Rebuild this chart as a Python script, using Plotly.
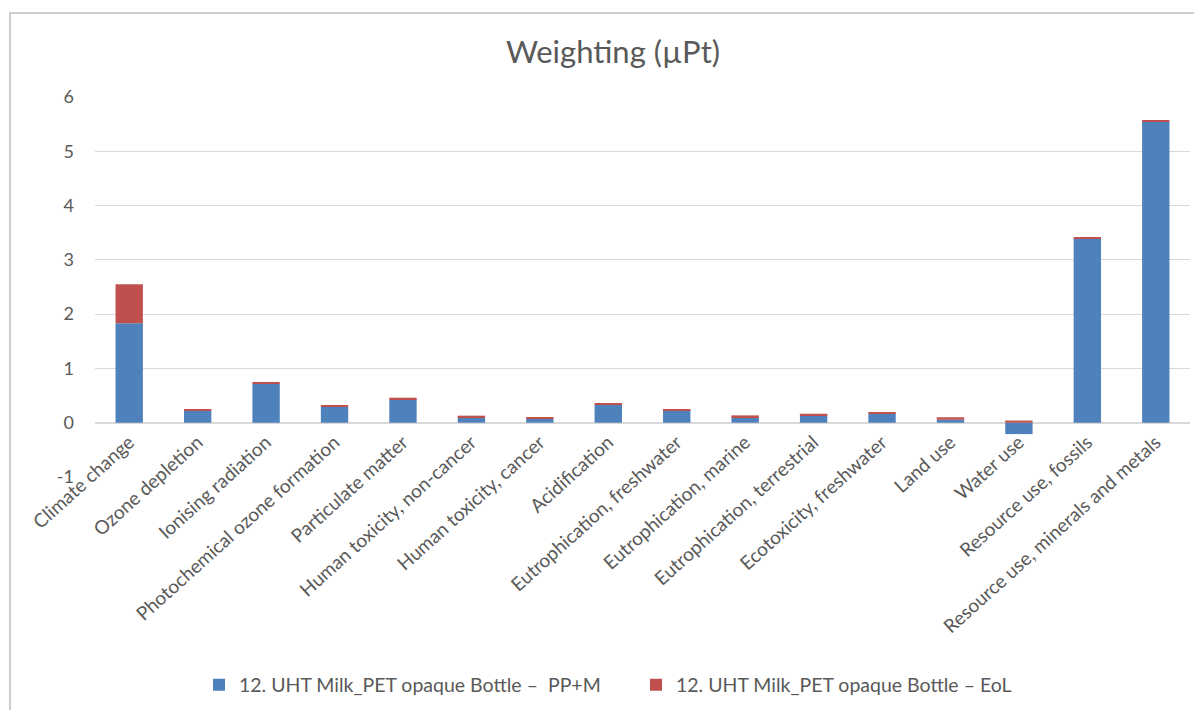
import plotly.graph_objects as go

categories = [
    "Climate change", "Ozone depletion", "Ionising radiation",
    "Photochemical ozone formation", "Particulate matter",
    "Human toxicity, non-cancer", "Human toxicity, cancer", "Acidification",
    "Eutrophication, freshwater", "Eutrophication, marine",
    "Eutrophication, terrestrial", "Ecotoxicity, freshwater", "Land use",
    "Water use", "Resource use, fossils", "Resource use, minerals and metals",
]
pp_m = [1.83, 0.22, 0.72, 0.29, 0.43, 0.10, 0.07, 0.33, 0.23, 0.105, 0.14,
        0.17, 0.055, -0.21, 3.40, 5.55]
eol = [0.72, 0.03, 0.03, 0.02, 0.03, 0.03, 0.03, 0.02, 0.02, 0.03, 0.025,
       0.02, 0.045, 0.04, 0.02, 0.02]
series_names = ["12. UHT Milk_PET opaque Bottle \u2013  PP+M",
                "12. UHT Milk_PET opaque Bottle \u2013 EoL"]
y_ticks = [-1, 0, 1, 2, 3, 4, 5, 6]
y_ticktext = ["-1", "0", "1", "2", "3", "4", "5", "6"]

FONT = "Lato, 'Open Sans', sans-serif"
GREY = "#595959"

# page has an 8px body margin; work in figure pixels
OFF = 8
W, H = 1202 - OFF, 710 - OFF
t, l = 97 - OFF, 95 - OFF
r = W - (1190 - OFF)
b = H - (477 - OFF)
pw, ph = W - l - r, H - t - b

def px_x(page_x):
    return (page_x - OFF - l) / pw

def px_y(page_y):
    return (t + ph - (page_y - OFF)) / ph

fig = go.Figure()
fig.add_trace(go.Bar(x=categories, y=pp_m, name=series_names[0],
                     marker=dict(color="#4F81BD", line=dict(width=0))))
fig.add_trace(go.Bar(x=categories, y=eol, name=series_names[1],
                     marker=dict(color="#C0504D", line=dict(width=0))))

# Chart frame
fig.add_shape(type="rect", xref="paper", yref="paper",
              x0=px_x(10), x1=px_x(1199), y0=px_y(720), y1=px_y(13),
              line=dict(color="#BFBFBF", width=1.5), fillcolor="rgba(0,0,0,0)",
              layer="below")

ymin, ymax = -1, 6
fig.update_layout(
    width=W, height=H,
    margin=dict(t=t, b=b, l=l, r=r, autoexpand=False),
    barmode="relative", bargap=0.6,
    paper_bgcolor="white", plot_bgcolor="white",
    font=dict(family=FONT, color=GREY),
    title=dict(text="Weighting (\u00b5Pt)", x=(613 - OFF) / W, xanchor="center",
               y=1 - (52 - OFF) / H, yanchor="middle",
               font=dict(size=31, color=GREY, family=FONT)),
    legend=dict(orientation="h", x=px_x(199), xanchor="left",
                y=px_y(685), yanchor="middle",
                font=dict(size=19.5, color=GREY, family=FONT),
                itemwidth=30, traceorder="normal", entrywidth=392),
    xaxis=dict(tickangle=-42, tickfont=dict(size=19, color=GREY, family=FONT),
               showgrid=False, showline=False, ticks="",
               anchor="free", position=(0 - ymin) / (ymax - ymin),
               ticklabelstandoff=4),
    yaxis=dict(range=[ymin, ymax], tickvals=y_ticks, ticktext=y_ticktext,
               showgrid=True,
               gridcolor="#D9D9D9", gridwidth=1, zeroline=True,
               zerolinecolor="#D9D9D9", zerolinewidth=1.5,
               tickfont=dict(size=18, color=GREY, family=FONT),
               ticks="", ticklabelstandoff=20),
)

fig.write_html("out.html")
